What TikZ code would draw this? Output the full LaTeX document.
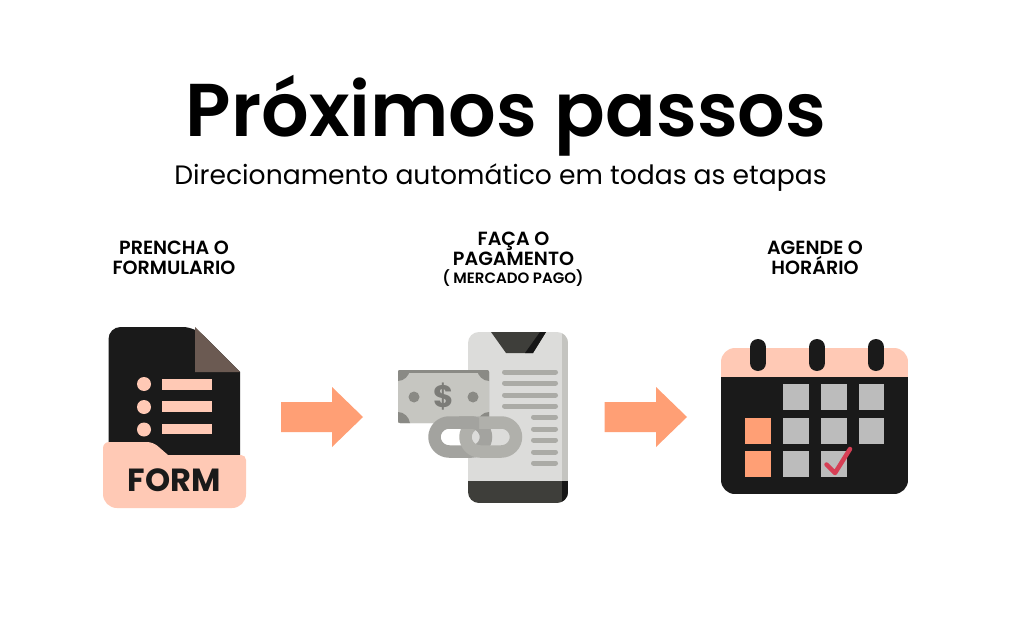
\documentclass[tikz,border=0pt]{standalone}
\usepackage{fontspec}
\setmainfont{Poppins}
\newfontfamily\popsemi{Poppins SemiBold}
\newfontfamily\popbold{Poppins Bold}
\definecolor{ink}{HTML}{1A1A1A}
\definecolor{peach}{HTML}{FFC9B5}
\definecolor{coral}{HTML}{FF9F75}
\definecolor{foldc}{HTML}{6B5A52}
\definecolor{phonec}{HTML}{DCDCDA}
\definecolor{phoneside}{HTML}{C4C4C0}
\definecolor{phonedark}{HTML}{3E3E3A}
\definecolor{linec}{HTML}{ABABA6}
\definecolor{billc}{HTML}{C6C6C1}
\definecolor{billd}{HTML}{8A8A85}
\definecolor{sqgrey}{HTML}{BCBCBC}
\definecolor{checkc}{HTML}{D63F55}
\definecolor{chaina}{HTML}{A3A39F}
\definecolor{chainb}{HTML}{B0B0AB}
\tikzset{
 titletext/.style={font=\popsemi\fontsize{74.8}{78}\selectfont,text=black,inner sep=0pt},
 subtext/.style={font=\fontsize{26.6}{30}\selectfont,text=black,inner sep=0pt},
 steptext/.style={font=\popsemi\fontsize{19.1}{20.5}\selectfont,text=black,align=center,inner sep=0pt},
 smalltext/.style={font=\popsemi\fontsize{15}{15}\selectfont,text=black,inner sep=0pt},
 flow/.style={fill=coral},
 phline/.style={draw=linec,line width=5pt,line cap=round},
 sq/.style={minimum size=25.5pt,inner sep=0pt,draw=none,fill=sqgrey},
 sqo/.style={minimum size=25.5pt,inner sep=0pt,draw=none,fill=coral},
 chainl/.style={draw=chaina,line width=12.5pt,rounded corners=14.7pt},
 chainr/.style={draw=chainb,line width=12.5pt,rounded corners=14.7pt},
}
\begin{document}
\begin{tikzpicture}[x=1pt,y=-1pt]
\useasboundingbox[fill=white] (0,0) rectangle (1024,628);
% texts
\node[titletext] (title) at (506,115.5) {Próximos passos};
\node[subtext] (sub) at (500.5,178) {Direcionamento automático em todas as etapas};
\node[steptext] (s1) at (174,258) {PRENCHA O\\FORMULARIO};
\node[steptext] (s2) at (513.5,249) {FAÇA O\\PAGAMENTO};
\node[smalltext] (s2b) at (513,278) {( MERCADO PAGO)};
\node[steptext] (s3) at (815,258) {AGENDE O\\HORÁRIO};
% form icon
\fill[ink,rounded corners=12pt] (108.5,460) -- (108.5,327) -- (195,327) [sharp corners] -- (240,372) -- (240,460) -- cycle;
\fill[foldc] (195,327) -- (240,372) -- (195,372) -- cycle;
\foreach \yy/\ya/\yb in {384/379/390,407/401/412,429.5/424/434}{
  \fill[peach] (144,\yy) circle[radius=7];
  \fill[peach] (162,\ya) rectangle (212,\yb);
}
\fill[peach,rounded corners=6pt] (103,475) -- (103,442) -- (153,442) [sharp corners] -- (168,455) [rounded corners=5pt] -- (246,455) [rounded corners=14pt] -- (246,508) -- (103,508) -- cycle;
\node[font=\popbold\fontsize{32}{32}\selectfont,text=ink,inner sep=0pt] (form) at (174,480) {FORM};
% arrows
\fill[flow] (281,402) -- (332,402) -- (332,387) -- (363,417) -- (332,447) -- (332,432) -- (281,432) -- cycle;
\fill[flow] (604.5,402) -- (656,402) -- (656,387) -- (687,417) -- (656,447) -- (656,432) -- (604.5,432) -- cycle;
% phone
\begin{scope}
\clip[rounded corners=11pt] (468,332) rectangle (568,503);
\fill[phonec] (468,332) rectangle (568,481);
\fill[phoneside] (562,332) rectangle (568,481);
\fill[phonedark] (468,481) rectangle (568,503);
\fill[ink!85!black] (562,481) rectangle (568,503);
\end{scope}
\fill[phonedark] (491,332) -- (546,332) -- (533,353) -- (506,353) -- cycle;
\fill[ink!85!black] (540,332) -- (546,332) -- (533,353) -- (525,353) -- cycle;
\foreach \yy in {372,383,395,406}{\draw[phline] (504.5,\yy) -- (555.5,\yy);}
\foreach \yy in {417,429,440,452,463}{\draw[phline] (533.5,\yy) -- (555.5,\yy);}
% bill
\fill[billd,rounded corners=2pt] (398,370) rectangle (489,423);
\fill[billc] (398,373) rectangle (489,423);
\begin{scope}
\clip[rounded corners=2pt] (398,370) rectangle (489,423);
\fill[billd] (398,370) rectangle (489,373);
\fill[billd] (398,370) -- (410,370) .. controls (409,376) and (404,381) .. (398,381) -- cycle;
\fill[billd] (489,370) -- (477,370) .. controls (478,376) and (483,381) .. (489,381) -- cycle;
\fill[billd] (398,423) -- (410,423) .. controls (409,417) and (404,412) .. (398,412) -- cycle;
\fill[billd] (489,423) -- (477,423) .. controls (478,417) and (483,412) .. (489,412) -- cycle;
\end{scope}
\fill[billd] (414,397) circle[radius=5.5];
\fill[billd] (473,397) circle[radius=5.5];
\node[font=\popbold\fontsize{31}{31}\selectfont,text=billd!90!black,inner sep=0pt] (dollar) at (443.5,397) {\$};
% chain
\draw[chainl] (434.5,422.5) rectangle (486,451.5);
\draw[chainr] (465.5,422.5) rectangle (516,451.5);
\begin{scope}
\clip (459,410) rectangle (479,437);
\draw[chainl] (434.5,422.5) rectangle (486,451.5);
\end{scope}
% calendar
\begin{scope}
\clip[rounded corners=14pt] (721,348) rectangle (908,494);
\fill[ink] (721,377) rectangle (908,494);
\fill[peach] (721,348) rectangle (908,377);
\end{scope}
\foreach \xx in {758,817,876}{\draw[ink,line width=16pt,line cap=round] (\xx,347) -- (\xx,363);}
\foreach \xx/\yy/\st in {796/397/sq,834/397/sq,871.5/397/sq,758/431/sqo,796/431/sq,834/431/sq,871.5/431/sq,758/464/sqo,796/464/sq,834/464/sq}{
  \node[\st] (c\xx-\yy) at (\xx,\yy) {};
}
\draw[checkc,line width=4.5pt,line cap=round,line join=round] (826.5,464.5) -- (835,473) -- (850,449);
\end{tikzpicture}
\end{document}
